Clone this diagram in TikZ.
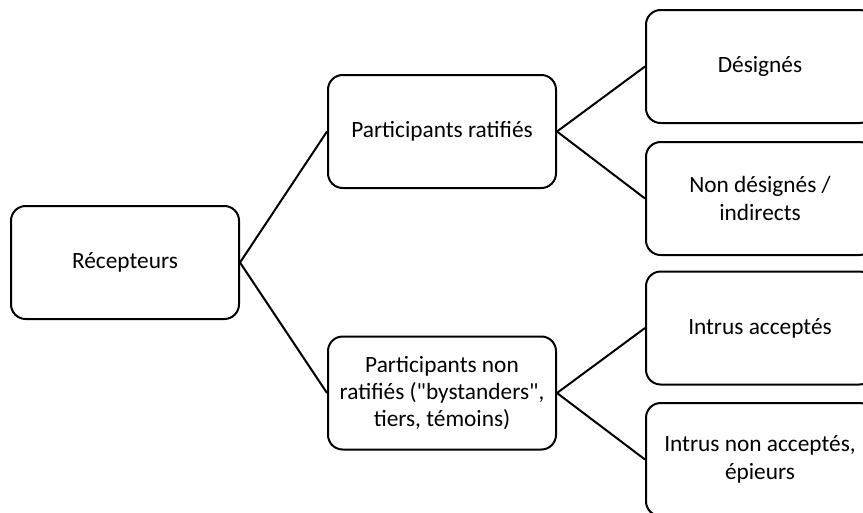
\documentclass[tikz,border=0pt]{standalone}
\usepackage{fontspec}
\setmainfont{Carlito}
\tikzset{every picture/.style={line width=1.5pt}}
\tikzset{
  box/.style={draw, fill=white, rounded corners=11pt, minimum width=171pt, minimum height=84.75pt,
    align=center, font=\fontsize{17.5}{20.5}\selectfont, line width=1.5pt},
  link/.style={line width=1.5pt}
}
\begin{document}
\begin{tikzpicture}[x=0.75pt,y=0.75pt,yscale=-1,xscale=1]
	\useasboundingbox (0,0) rectangle (863,512);

	% racine
	\node [box] (recepteurs) at (125,262.5) {Récepteurs};

	% niveau 1
	\node [box] (ratifies) at (442,131.5) {Participants ratifiés};
	\node [box] (nonratifies) at (442,393) {Participants non\\ratifiés (\textquotedbl bystanders\textquotedbl,\\tiers, témoins)};

	% niveau 2
	\node [box] (designes) at (760,66.5) {Désignés};
	\node [box] (nondesignes) at (760,198.5) {Non désignés /\\indirects};
	\node [box] (acceptes) at (760,328) {Intrus acceptés};
	\node [box] (nonacceptes) at (760,459.5) {Intrus non acceptés,\\épieurs};

	\draw [link] (recepteurs.east) -- (ratifies.west);
	\draw [link] (recepteurs.east) -- (nonratifies.west);
	\draw [link] (ratifies.east) -- (designes.west);
	\draw [link] (ratifies.east) -- (nondesignes.west);
	\draw [link] (nonratifies.east) -- (acceptes.west);
	\draw [link] (nonratifies.east) -- (nonacceptes.west);

\end{tikzpicture}
\end{document}
